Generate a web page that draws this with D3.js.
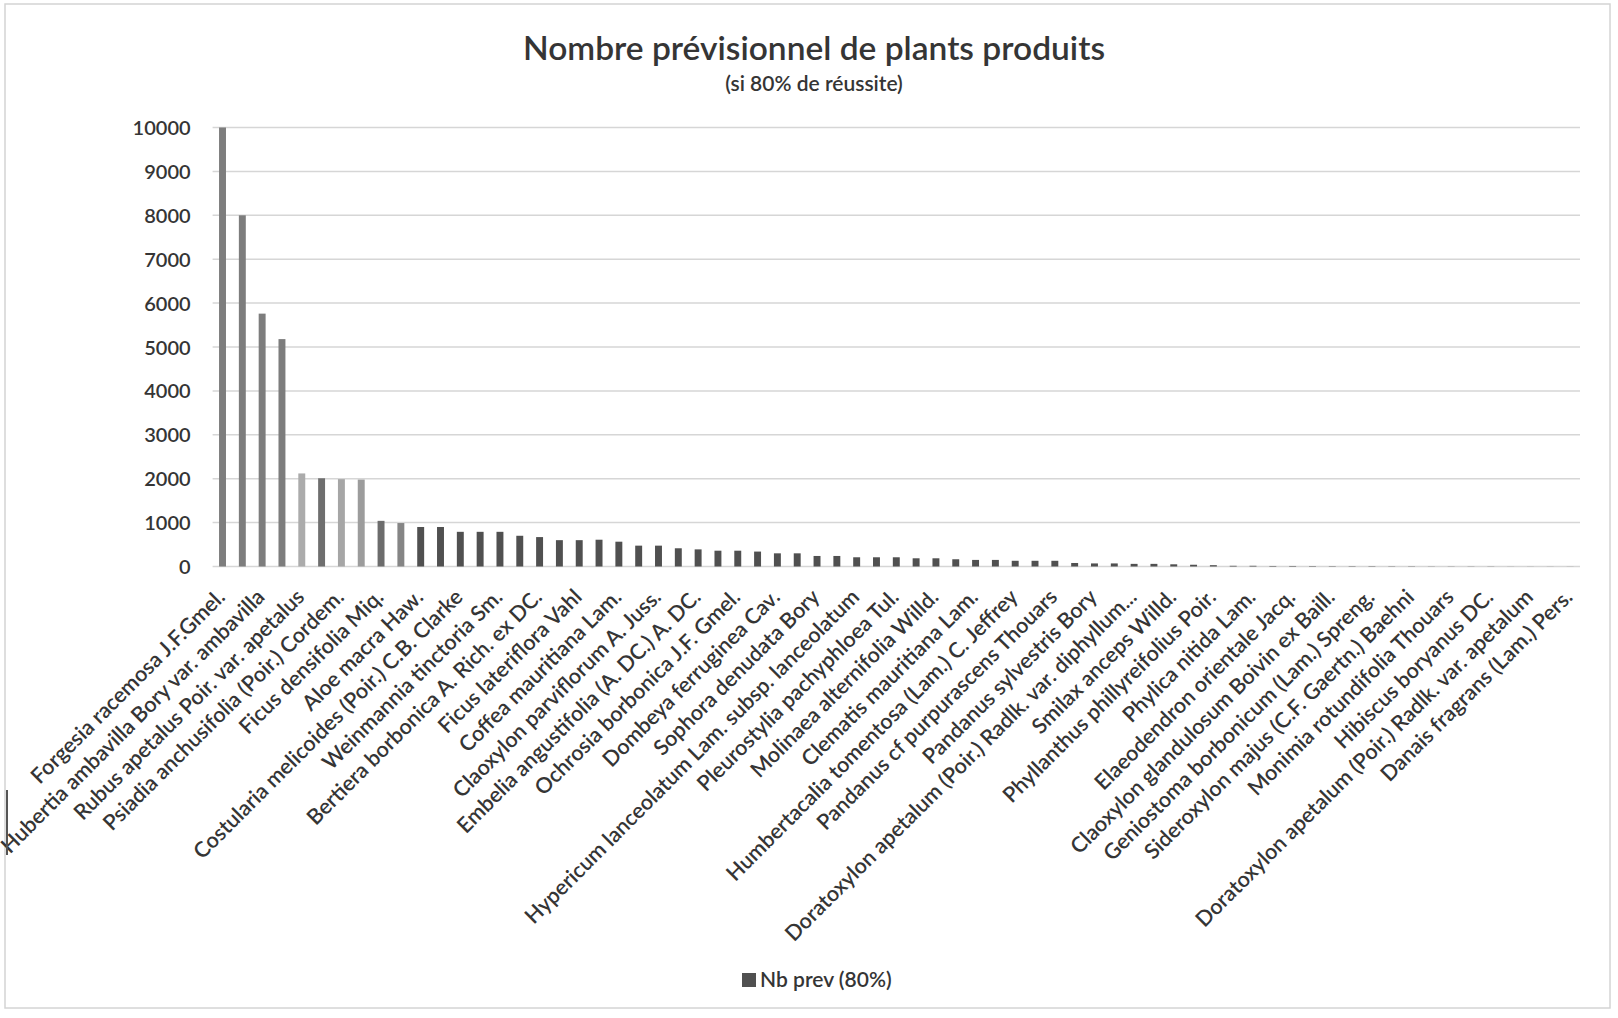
<!DOCTYPE html>
<html><head><meta charset="utf-8">
<script src="https://cdn.jsdelivr.net/npm/d3@7"></script>
<style>
html,body{margin:0;padding:0;background:#fff;}
svg{display:block;}
</style></head>
<body>
<svg id="chart" width="1618" height="1018"></svg>
<script>
// ---- Data ----
const title = "Nombre prévisionnel de plants produits";
const subtitle = "(si 80% de réussite)";
const seriesName = "Nb prev (80%)";
// Labels shown on the axis (every other category is labelled)
const shownLabels = [
  "Forgesia racemosa J.F.Gmel.",
  "Hubertia ambavilla Bory var. ambavilla",
  "Rubus apetalus Poir. var. apetalus",
  "Psiadia anchusifolia (Poir.) Cordem.",
  "Ficus densifolia Miq.",
  "Aloe macra Haw.",
  "Costularia melicoides (Poir.) C.B. Clarke",
  "Weinmannia tinctoria Sm.",
  "Bertiera borbonica A. Rich. ex DC.",
  "Ficus lateriflora Vahl",
  "Coffea mauritiana Lam.",
  "Claoxylon parviflorum A. Juss.",
  "Embelia angustifolia (A. DC.) A. DC.",
  "Ochrosia borbonica J.F. Gmel.",
  "Dombeya ferruginea Cav.",
  "Sophora denudata Bory",
  "Hypericum lanceolatum Lam. subsp. lanceolatum",
  "Pleurostylia pachyphloea Tul.",
  "Molinaea alternifolia Willd.",
  "Clematis mauritiana Lam.",
  "Humbertacalia tomentosa (Lam.) C. Jeffrey",
  "Pandanus cf purpurascens Thouars",
  "Pandanus sylvestris Bory",
  "Doratoxylon apetalum (Poir.) Radlk. var. diphyllum...",
  "Smilax anceps Willd.",
  "Phyllanthus phillyreifolius Poir.",
  "Phylica nitida Lam.",
  "Elaeodendron orientale Jacq.",
  "Claoxylon glandulosum Boivin ex Baill.",
  "Geniostoma borbonicum (Lam.) Spreng.",
  "Sideroxylon majus (C.F. Gaertn.) Baehni",
  "Monimia rotundifolia Thouars",
  "Hibiscus boryanus DC.",
  "Doratoxylon apetalum (Poir.) Radlk. var. apetalum",
  "Danais fragrans (Lam.) Pers."
];
// One value per bar (69 bars)
const values = [
  10000, 8000, 5760, 5180, 2120, 2010, 1990, 1980, 1040, 990,
  900, 900, 790, 790, 790, 700, 670, 600, 600, 610,
  565, 475, 475, 415, 390, 360, 360, 340, 300, 300,
  240, 240, 210, 210, 210, 187, 187, 165, 150, 150,
  130, 130, 130, 80, 70, 70, 60, 60, 50, 40,
  30, 16, 16, 12, 12, 10, 8, 8, 8, 6,
  6, 4, 4, 4, 4, 2, 2, 2, 2
];
const yTicks = [0,1000,2000,3000,4000,5000,6000,7000,8000,9000,10000];

// ---- Styles ----
const barShades = ["#7d7d7d","#7d7d7d","#7d7d7d","#7d7d7d","#ababab","#6e6e6e","#a6a6a6","#9c9c9c","#6c6c6c","#858585"];
const defaultShade = "#505050";
const textColor = "#353535";
const FONT = "Lato, 'Open Sans', sans-serif";

const svg = d3.select("#chart").attr("font-family", FONT);
const plot = {left: 212.6, right: 1580, top: 127.5, bottom: 566.5};

// chart border
svg.append("rect").attr("x",5).attr("y",4).attr("width",1605).attr("height",1004)
  .attr("fill","#fff").attr("stroke","#d4d4d4").attr("stroke-width",1.5);

const idx = d3.range(values.length);
const x = d3.scaleBand().domain(idx).range([plot.left, plot.right]).paddingInner(0.65).paddingOuter(0.325);
const y = d3.scaleLinear().domain([0,10000]).range([plot.bottom, plot.top]);

// gridlines
svg.append("g").selectAll("line").data(yTicks).join("line")
  .attr("x1", plot.left).attr("x2", plot.right)
  .attr("y1", d=>y(d)).attr("y2", d=>y(d))
  .attr("stroke","#d6d6d6").attr("stroke-width",1.5);

// y axis
const yAxis = d3.axisLeft(y).tickValues(yTicks).tickSize(0).tickPadding(0).tickFormat(d3.format("d"));
const gy = svg.append("g").attr("transform",`translate(${plot.left-22},0)`).call(yAxis)
  .attr("font-family", FONT);
gy.select(".domain").remove();
gy.selectAll("text").attr("fill",textColor).attr("font-size",20).attr("font-weight",600).attr("dy","0.35em");

// bars
svg.append("g").selectAll("rect").data(values).join("rect")
  .attr("x",(d,i)=>x(i)).attr("width",x.bandwidth())
  .attr("y",d=>y(d)).attr("height",d=>y(0)-y(d))
  .attr("fill",(d,i)=> i<barShades.length ? barShades[i] : defaultShade);

// x axis (labels on every other category)
const xAxis = d3.axisBottom(x).tickSize(0).tickPadding(0)
  .tickFormat(i => i%2===0 ? shownLabels[i/2] : "");
const gx = svg.append("g").attr("transform",`translate(0,${plot.bottom})`).call(xAxis)
  .attr("font-family", FONT);
gx.select(".domain").remove();
gx.selectAll("text")
  .attr("fill",textColor).attr("font-size",21.5).attr("font-weight",600)
  .attr("text-anchor","end")
  .attr("dy",null).attr("y",0)
  .attr("transform","translate(0,28) rotate(-45)")
  .attr("dominant-baseline","middle");

// title
svg.append("text").attr("x",814).attr("y",60).attr("text-anchor","middle")
  .attr("font-size",33.5).attr("font-weight",600).attr("fill",textColor).text(title);
svg.append("text").attr("x",814).attr("y",91).attr("text-anchor","middle")
  .attr("font-size",21).attr("font-weight",600).attr("fill",textColor).text(subtitle);

// legend
const lg = svg.append("g").attr("transform","translate(742,973)");
lg.append("rect").attr("width",14).attr("height",14).attr("fill",defaultShade);
lg.append("text").attr("x",18).attr("y",7).attr("dy","0.35em").attr("font-size",21).attr("font-weight",600)
  .attr("fill",textColor).text(seriesName);

// scan edge mark on the left
svg.append("line").attr("x1",7).attr("x2",7).attr("y1",790).attr("y2",855).attr("stroke","#555").attr("stroke-width",2);
</script>
</body></html>
